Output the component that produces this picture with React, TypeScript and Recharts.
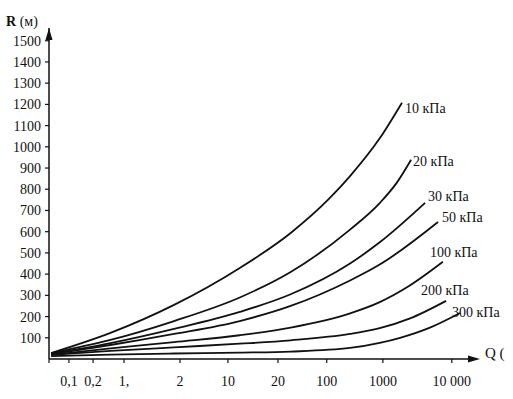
import { LineChart, Line, XAxis, YAxis, ReferenceDot } from 'recharts';

// x axis of the nomogram is hand-spaced, so Q is placed by axis position
const qTicks = [0, 0.94, 2.08, 3.54, 6.18, 8.44, 10.8, 13.1, 15.75, 19.0];
const qTickLabels = ['', '0,1', '0,2', '1,', '2', '10', '20', '100', '1000', '10 000'];
const rTicks = [100, 200, 300, 400, 500, 600, 700, 800, 900, 1000, 1100, 1200, 1300, 1400, 1500];

const q10 = [0.1, 2.9, 5.9, 9.0, 11.4, 13.25, 14.2, 15.6, 16.65];
const r10 = [28, 123, 255, 429, 594, 759, 862, 1040, 1208];
const q20 = [0.1, 2.9, 5.9, 9.0, 11.4, 14.2, 15.6, 16.4, 17.08];
const r20 = [28, 90, 179, 290, 410, 610, 735, 830, 939];
const q30 = [0.1, 2.9, 5.9, 9.0, 11.4, 14.2, 15.6, 17.74];
const r30 = [24, 75, 142, 222, 305, 450, 550, 736];
const q50 = [0.1, 2.9, 5.9, 9.0, 11.4, 14.2, 15.6, 18.35];
const r50 = [24, 66, 118, 179, 250, 370, 445, 646];
const q100 = [0.1, 2.9, 5.9, 9.0, 11.4, 14.2, 15.6, 17.0, 18.58];
const r100 = [19, 50, 80, 112, 148, 215, 268, 345, 458];
const q200 = [0.1, 2.9, 5.9, 9.0, 11.4, 14.2, 15.6, 17.0, 18.73];
const r200 = [19, 38, 55, 72, 88, 118, 145, 190, 274];
const q300 = [0.1, 2.9, 5.9, 9.0, 11.4, 14.2, 15.6, 16.56, 17.97, 19.39];
const r300 = [14, 21, 26, 30, 35, 52, 76, 100, 148, 217];

const curveNames = ['10 кПа', '20 кПа', '30 кПа', '50 кПа', '100 кПа', '200 кПа', '300 кПа'];
const curveQ = [q10, q20, q30, q50, q100, q200, q300];
const curveR = [r10, r20, r30, r50, r100, r200, r300];

// where each curve label sits relative to the curve end (px)
const labelShift = [
  [3, 6], [2, 2], [3, -6], [4, -4], [-13, -9], [-25, -10], [-8, 0],
];

const font = '"Liberation Serif", "Times New Roman", serif';

const toPoints = (q: number[], r: number[]) => q.map((x, i) => ({ q: x, r: r[i] }));

function EndLabel(props: any, idx: number, last: number) {
  const { x, y, index } = props;
  if (index !== last) return null;
  const [dx, dy] = labelShift[idx];
  return (
    <text
      key={'lbl' + idx}
      x={x + dx}
      y={y + dy}
      dominantBaseline="central"
      fontFamily={font}
      fontSize={14}
      fill="#111"
    >
      {curveNames[idx]}
    </text>
  );
}

export default function App() {
  return (
    <div style={{ position: 'absolute', left: 0, top: 0, width: 513, height: 399, background: '#fff' }}>
      <LineChart width={513} height={399} margin={{ top: 28, right: 40, bottom: 0, left: 0 }}>
        <XAxis
          type="number"
          dataKey="q"
          domain={[0, 20]}
          ticks={qTicks}
          tickFormatter={(v: number) => qTickLabels[qTicks.indexOf(v)] ?? ''}
          height={40}
          axisLine={{ stroke: '#111', strokeWidth: 1.5 }}
          tickLine={{ stroke: '#111', strokeWidth: 1.2 }}
          tickSize={4}
          tickMargin={13}
          tick={{ fill: '#111', fontFamily: font, fontSize: 14 }}
          allowDataOverflow
        />
        <YAxis
          type="number"
          dataKey="r"
          domain={[0, 1560]}
          ticks={rTicks}
          width={49}
          axisLine={{ stroke: '#111', strokeWidth: 1.5 }}
          tickLine={{ stroke: '#111', strokeWidth: 1.2 }}
          tickSize={4}
          tickMargin={4}
          tick={{ fill: '#111', fontFamily: font, fontSize: 14 }}
          allowDataOverflow
        />
        {curveNames.map((name, i) => (
          <Line
            key={name}
            name={name}
            data={toPoints(curveQ[i], curveR[i])}
            dataKey="r"
            type="monotone"
            stroke="#111"
            strokeWidth={1.8}
            dot={false}
            activeDot={false}
            isAnimationActive={false}
            label={(p: any) => EndLabel(p, i, curveQ[i].length - 1)}
          />
        ))}
        <ReferenceDot
          x={20}
          y={0}
          r={0}
          ifOverflow="visible"
          shape={(p: any) => (
            <path d={`M${p.cx + 7},${p.cy} L${p.cx - 5},${p.cy - 3.5} L${p.cx - 5},${p.cy + 3.5} Z`} fill="#111" />
          )}
        />
        <ReferenceDot
          x={0}
          y={1560}
          r={0}
          ifOverflow="visible"
          shape={(p: any) => (
            <path d={`M${p.cx},${p.cy} L${p.cx - 3.5},${p.cy + 12} L${p.cx + 3.5},${p.cy + 12} Z`} fill="#111" />
          )}
        />
      </LineChart>
      <div style={{ position: 'absolute', left: 6, top: 14, fontFamily: font, fontSize: 14, color: '#111', whiteSpace: 'nowrap' }}>
        <b>R</b> (м)
      </div>
      <div style={{ position: 'absolute', left: 485, top: 345, fontFamily: font, fontSize: 15, color: '#111', whiteSpace: 'nowrap' }}>
        Q (
      </div>
    </div>
  );
}
